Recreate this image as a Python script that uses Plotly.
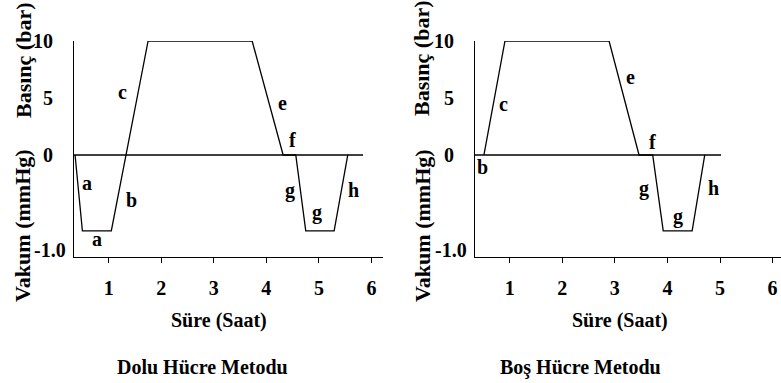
import plotly.graph_objects as go

# ---------------- data ----------------
# time in hours; positive = pressure (bar), negative = vacuum on the "-1.0" scale
left_t = [0.36, 0.5, 1.05, 1.75, 3.73, 4.32, 4.56, 4.75, 5.29, 5.55]
left_v = [0, -0.8, -0.8, 10, 10, 0, 0, -0.8, -0.8, 0]
left_zero_t = [0.34, 5.84]

right_t = [0.51, 0.91, 2.89, 3.46, 3.72, 3.92, 4.47, 4.71]
right_v = [0, 10, 10, 0, 0, -0.8, -0.8, 0]
right_zero_t = [0.34, 5.02]

x_ticks = [1, 2, 3, 4, 5, 6]
y_tick_vals = [10, 5, 0, -1.0]
y_tick_text = ["10", "5", "0", "-1.0"]

left_labels = [("d", 2.79, 11.6), ("c", 1.27, 5.5), ("e", 4.30, 4.6), ("f", 4.49, 1.3),
               ("a", 0.59, -0.30), ("b", 1.43, -0.47), ("a", 0.78, -0.89),
               ("g", 4.45, -0.37), ("g", 4.96, -0.61), ("h", 5.65, -0.37)]
right_labels = [("d", 2.0, 11.2), ("c", 0.89, 4.5), ("e", 3.29, 6.8), ("f", 3.71, 1.1),
                ("b", 0.49, -0.13), ("g", 3.56, -0.35), ("g", 4.2, -0.65), ("h", 4.87, -0.35)]

VAC_SCALE = 8.33  # plotted units per 1.0 of vacuum


def to_plot(v):
    return v if v >= 0 else v * VAC_SCALE


FONT = "Liberation Serif, Times New Roman, serif"
W, H = 781, 383

fig = go.Figure()

panels = [
    ("x", "y", left_t, left_v, left_zero_t, left_labels),
    ("x2", "y2", right_t, right_v, right_zero_t, right_labels),
]
for xa, ya, t, v, zt, labels in panels:
    fig.add_trace(go.Scatter(x=zt, y=[0, 0], mode="lines", xaxis=xa, yaxis=ya,
                             line=dict(color="black", width=1.3), cliponaxis=False,
                             showlegend=False, hoverinfo="skip"))
    fig.add_trace(go.Scatter(x=t, y=[to_plot(a) for a in v], mode="lines", xaxis=xa, yaxis=ya,
                             line=dict(color="black", width=1.3), cliponaxis=False,
                             showlegend=False))
    for txt, lx, ly in labels:
        fig.add_annotation(x=lx, y=to_plot(ly), xref=xa, yref=ya, text=f"<b>{txt}</b>",
                           showarrow=False, font=dict(family=FONT, size=20, color="black"))
    dom = "x domain" if xa == "x" else "x2 domain"
    for val, txt in zip(y_tick_vals, y_tick_text):
        shift = -6 if txt.startswith("-") else -19
        fig.add_annotation(x=0, y=to_plot(val), xref=dom, yref=ya, text=f"<b>{txt}</b>",
                           showarrow=False, xanchor="right", xshift=shift,
                           font=dict(family=FONT, size=20, color="black"))

axis_common = dict(showline=True, linecolor="black", linewidth=1.3, showgrid=False,
                   zeroline=False, mirror=False)
fig.update_layout(
    width=W, height=H, margin=dict(l=0, r=0, t=0, b=0),
    paper_bgcolor="white", plot_bgcolor="white",
    font=dict(family=FONT, size=20, color="black"),
    xaxis=dict(domain=[74 / W, 383 / W], range=[0.34, 6.22], tickvals=x_ticks,
               ticktext=[f"<b>{k}</b>" for k in x_ticks], ticks="outside", ticklen=5,
               tickcolor="black", ticklabelstandoff=8, anchor="y", **axis_common),
    yaxis=dict(domain=[1 - 257 / H, 1 - 41 / H], range=[-8.95, 10], showticklabels=False,
               ticks="", anchor="x", **axis_common),
    xaxis2=dict(domain=[475 / W, 1.0], range=[0.34, 6.16], tickvals=x_ticks,
                ticktext=[f"<b>{k}</b>" for k in x_ticks], ticks="outside", ticklen=5,
                tickcolor="black", ticklabelstandoff=8, anchor="y2", **axis_common),
    yaxis2=dict(domain=[1 - 257 / H, 1 - 41 / H], range=[-8.95, 10], showticklabels=False,
                ticks="", anchor="x2", **axis_common),
)

texts = [
    ("Basınç (bar)", 23, 60, -90, 22),
    ("Vakum (mmHg)", 23, 226, -90, 22),
    ("Basınç (bar)", 422, 58, -90, 22),
    ("Vakum (mmHg)", 422, 225, -90, 22),
    ("Süre (Saat)", 219, 320, 0, 20),
    ("Süre (Saat)", 620, 320, 0, 20),
    ("Dolu Hücre Metodu", 202, 367, 0, 20),
    ("Boş Hücre Metodu", 580, 367, 0, 20),
]
for txt, px, py, ang, sz in texts:
    fig.add_annotation(x=px / W, y=1 - py / H, xref="paper", yref="paper",
                       text=f"<b>{txt}</b>", showarrow=False, textangle=ang,
                       xanchor="center", yanchor="middle",
                       font=dict(family=FONT, size=sz, color="black"))

fig.write_html("out.html")
